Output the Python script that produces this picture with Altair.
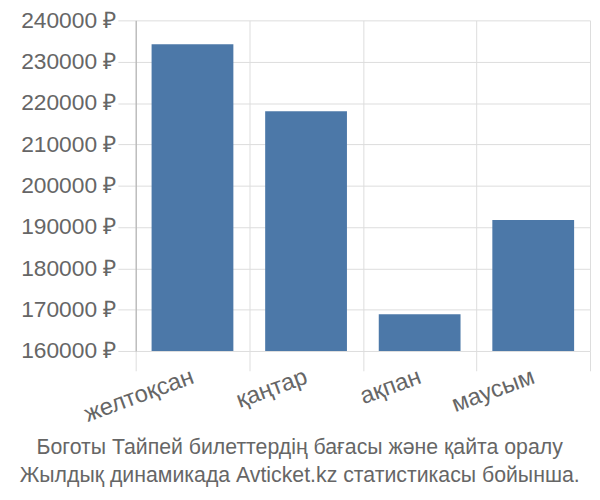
import altair as alt
import pandas as pd

months = ["желтоқсан", "қаңтар", "ақпан", "маусым"]
prices = [234200, 218000, 168900, 191700]
title_lines = ["Боготы Тайпей билеттердің бағасы және қайта оралу",
               "Жылдық динамикада Avticket.kz статистикасы бойынша."]

df = pd.DataFrame({"month": months, "price": prices})

FONT = "Liberation Sans"

chart = alt.Chart(df).mark_bar(color="#4c78a8", clip=True,
                               width=alt.RelativeBandSize(0.72)).encode(
    x=alt.X("month:N", sort=months, title=None,
            scale=alt.Scale(paddingInner=0, paddingOuter=0),
            axis=alt.Axis(labelAngle=-20, labelFontSize=24, labelColor="#666666",
                          labelFont=FONT, grid=True, gridColor="#dddddd",
                          tickBand="extent", tickSize=20, tickColor="#dddddd",
                          domain=False, labelPadding=5, labelAlign="right",
                          labelBaseline="middle")),
    y=alt.Y("price:Q", title=None,
            scale=alt.Scale(domain=[160000, 240000], nice=False, zero=False),
            axis=alt.Axis(values=list(range(160000, 240001, 10000)),
                          labelExpr="datum.value + ' ₽'",
                          labelFontSize=23, labelColor="#666666", labelFont=FONT,
                          gridColor="#dddddd", domainColor="#aaaaaa",
                          tickColor="#dddddd", tickSize=18, labelPadding=2)),
).properties(
    width=459, height=334,
    title=alt.TitleParams(text=title_lines, orient="bottom", anchor="middle",
                          frame="bounds", fontSize=21.5, color="#666666",
                          font=FONT, fontWeight="normal", lineHeight=28.5,
                          offset=11, dx=-6),
    autosize=alt.AutoSizeParams(type="none"),
    padding={"left": 129, "top": 10, "right": 2, "bottom": 140},
).configure_view(stroke=None)

chart.save("out.html", embed_options={"renderer": "svg", "actions": False})
